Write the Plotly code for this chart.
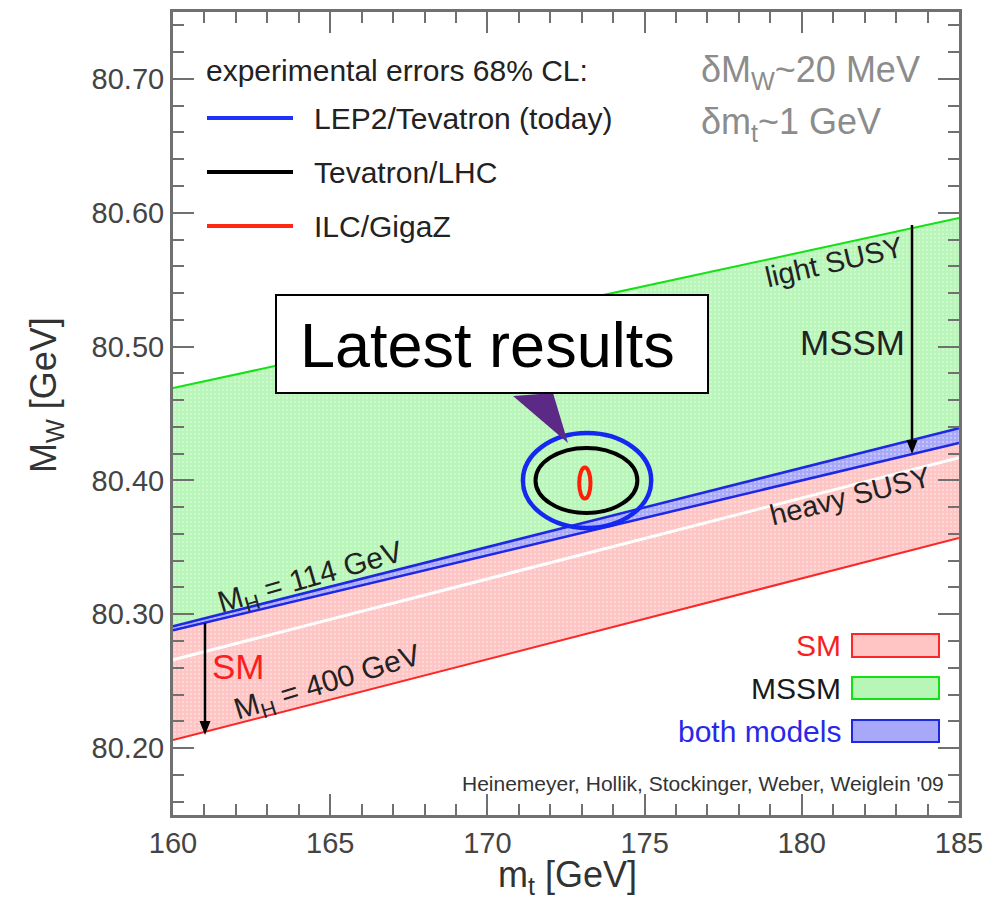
import plotly.graph_objects as go

# ---------------- data ----------------
mt_edges = [160.0, 185.0]                 # x at left / right edge of the bands
sm_low = [80.206, 80.357]                 # SM band lower edge (M_H = 400 GeV)
sm_high = [80.288, 80.428]                # SM band upper edge (M_H = 114 GeV)
mssm_low = [80.291, 80.439]               # MSSM band lower edge (heavy SUSY)
mssm_high = [80.469, 80.596]              # MSSM band upper edge (light SUSY)
white_line = [80.266, 80.417]             # thin white line inside the SM band

# experimental 68% CL ellipses: (centre mt, centre MW, half-width mt, half-width MW)
ell_today = (173.17, 80.400, 2.04, 0.0355)
ell_lhc = (173.15, 80.400, 1.62, 0.0243)
ell_ilc = (173.10, 80.398, 0.18, 0.0116)

x_ticks = [160, 165, 170, 175, 180, 185]
y_ticks = [80.20, 80.30, 80.40, 80.50, 80.60, 80.70]
y_tick_text = ["80.20", "80.30", "80.40", "80.50", "80.60", "80.70"]

# ---------------- geometry helpers (layout only) ----------------
PAGE_W, PAGE_H = 994, 902
OFF = 8                      # default body margin of the html page
W, H = PAGE_W - OFF, PAGE_H - OFF
L, R, T, B = 173, 959, 12, 815   # plot area in page pixels
XR = (160, 185)
YR = (80.15, 80.75)


def X(px):
    return XR[0] + (px - L) * (XR[1] - XR[0]) / (R - L)


def Y(py):
    return YR[1] - (py - T) * (YR[1] - YR[0]) / (B - T)


FONT = "Liberation Sans, Arial, Helvetica, sans-serif"

GREEN_FILL = "rgb(184,246,184)"
GREEN_LIGHT = "rgb(222,251,222)"
GREEN_LINE = "rgb(20,225,20)"
RED_FILL = "rgb(255,196,196)"
RED_LINE = "rgb(250,40,40)"
BLUE_FILL = "rgb(168,168,250)"
BLUE_LINE = "rgb(30,40,225)"

fig = go.Figure()


def band(lo, hi, fill, name):
    xs = [mt_edges[0], mt_edges[1], mt_edges[1], mt_edges[0], mt_edges[0]]
    ys = [lo[0], lo[1], hi[1], hi[0], lo[0]]
    fig.add_trace(go.Scatter(
        x=xs, y=ys, mode="lines", fill="toself", fillcolor=fill,
        line=dict(width=0), hoverinfo="skip", name=name, showlegend=False,
        fillpattern=dict(shape=".", bgcolor=fill, fgcolor="white",
                         fgopacity=0.35, size=4, solidity=0.25),
    ))


def edge(ys, color, width):
    fig.add_trace(go.Scatter(x=mt_edges, y=ys, mode="lines",
                             line=dict(color=color, width=width),
                             hoverinfo="skip", showlegend=False))


band(sm_low, sm_high, RED_FILL, "SM")
band(sm_high, mssm_low, BLUE_FILL, "both models")
band(mssm_low, mssm_high, GREEN_FILL, "MSSM")

edge(white_line, "white", 3)
edge(sm_low, RED_LINE, 2)
edge(mssm_high, GREEN_LINE, 2)
edge(sm_high, BLUE_LINE, 2.5)
edge(mssm_low, BLUE_LINE, 2.5)

shapes = []
annotations = []

# lighter patch near the top of the MSSM band (visible just above the callout)
slope = (mssm_high[1] - mssm_high[0]) / (mt_edges[1] - mt_edges[0])
xa, xb = X(470), X(638)
ya = mssm_high[0] + slope * (xa - mt_edges[0])
yb = mssm_high[0] + slope * (xb - mt_edges[0])
shapes.append(dict(type="path", xref="x", yref="y", layer="above",
                   path=f"M {xa},{Y(390)} L {xa},{ya - 0.002} L {xb},{yb - 0.002} L {xb},{Y(390)} Z",
                   fillcolor=GREEN_LIGHT, opacity=0.8, line=dict(width=0)))

# ellipses
for (cx, cy, ax_, ay_), col, lw in [(ell_today, "rgb(20,40,240)", 4.5),
                                     (ell_lhc, "black", 4),
                                     (ell_ilc, "rgb(255,30,10)", 4)]:
    shapes.append(dict(type="circle", xref="x", yref="y",
                       x0=cx - ax_, x1=cx + ax_, y0=cy - ay_, y1=cy + ay_,
                       line=dict(color=col, width=lw), layer="above"))


# arrows (line + filled head)
def arrow(px, py0, py1):
    shapes.append(dict(type="line", xref="x", yref="y", x0=X(px), x1=X(px),
                       y0=Y(py0), y1=Y(py1 - 10), line=dict(color="black", width=2.5),
                       layer="above"))
    shapes.append(dict(type="path", xref="x", yref="y", layer="above",
                       path=f"M {X(px - 5.5)},{Y(py1 - 14)} L {X(px + 5.5)},{Y(py1 - 14)} L {X(px)},{Y(py1)} Z",
                       fillcolor="black", line=dict(width=0)))


arrow(912, 225, 454)
arrow(205, 623, 735)


def txt(px, py, s, size, color="#222", xanchor="center", angle=0):
    annotations.append(dict(x=X(px), y=Y(py), xref="x", yref="y", text=s,
                            showarrow=False, xanchor=xanchor, yanchor="middle",
                            textangle=angle,
                            font=dict(family=FONT, size=size, color=color)))


# experimental-errors key
txt(204, 70, "experimental errors 68% CL:", 30, "#222", "left")
for py, col, label in [(118, "rgb(30,50,250)", "LEP2/Tevatron (today)"),
                       (172, "black", "Tevatron/LHC"),
                       (226, "rgb(255,40,20)", "ILC/GigaZ")]:
    shapes.append(dict(type="line", xref="x", yref="y", x0=X(207), x1=X(293),
                       y0=Y(py), y1=Y(py), line=dict(color=col, width=4)))
    txt(312, py, label, 30, "#222", "left")

txt(699, 72, "δM<sub>W</sub>~20 MeV", 36, "rgb(140,140,140)", "left")
txt(699, 124, "δm<sub>t</sub>~1 GeV", 36, "rgb(140,140,140)", "left")

txt(834, 262, "light SUSY", 29, "#222", angle=-13)
txt(852, 342, "MSSM", 35, "#222")
txt(850, 496, "heavy SUSY", 29, "#222", angle=-14)
txt(310, 578, "M<sub>H</sub> = 114 GeV", 30, "#222", angle=-16)
txt(238, 666, "SM", 35, "rgb(250,30,30)")
txt(327, 683, "M<sub>H</sub> = 400 GeV", 30, "#222", angle=-17)

# model key (bottom right)
for (y0, y1), fill, line, label, tcol in [
        ((634, 657), RED_FILL, RED_LINE, "SM", "rgb(250,30,30)"),
        ((677, 699), GREEN_FILL, GREEN_LINE, "MSSM", "#1a1a1a"),
        ((720, 742), BLUE_FILL, BLUE_LINE, "both models", "rgb(40,40,235)")]:
    shapes.append(dict(type="rect", xref="x", yref="y", x0=X(852), x1=X(939),
                       y0=Y(y1), y1=Y(y0), fillcolor=fill,
                       line=dict(color=line, width=2)))
    txt(843, (y0 + y1) / 2, label, 30, tcol, "right")

txt(946, 783, "Heinemeyer, Hollik, Stockinger, Weber, Weiglein '09", 21,
    "#333", "right")

# "Latest results" callout
shapes.append(dict(type="path", xref="x", yref="y",
                   path=f"M {X(513)},{Y(396)} L {X(553)},{Y(393)} L {X(568)},{Y(443)} Z",
                   fillcolor="rgb(92,42,134)", line=dict(width=0), layer="above"))
shapes.append(dict(type="rect", xref="x", yref="y", x0=X(276), x1=X(708),
                   y0=Y(393), y1=Y(295), fillcolor="white",
                   line=dict(color="black", width=2), layer="above"))
txt(487, 345, "Latest results", 63, "black")

# axis titles
annotations.append(dict(x=(567 - L) / (R - L), y=(B - 877) / (B - T),
                        xref="paper", yref="paper", showarrow=False,
                        text="m<sub>t</sub> [GeV]", xanchor="center",
                        yanchor="middle",
                        font=dict(family=FONT, size=36, color="#333")))
annotations.append(dict(x=(46 - L) / (R - L), y=(B - 395) / (B - T),
                        xref="paper", yref="paper", showarrow=False,
                        text="M<sub>W</sub> [GeV]", textangle=-90,
                        xanchor="center", yanchor="middle",
                        font=dict(family=FONT, size=36, color="#333")))

axis_common = dict(showgrid=False, zeroline=False, showline=True,
                   linecolor="#707070", linewidth=3, mirror="allticks",
                   ticks="inside", ticklen=21, tickwidth=2, tickcolor="#707070",
                   automargin=False,
                   tickfont=dict(family=FONT, size=29, color="#444"))

fig.update_layout(
    width=W, height=H,
    margin=dict(l=L - OFF, r=PAGE_W - R, t=T - OFF, b=PAGE_H - B),
    paper_bgcolor="white", plot_bgcolor="white",
    showlegend=False,
    shapes=shapes, annotations=annotations,
    xaxis=dict(range=list(XR), tickvals=x_ticks,
               ticktext=[str(v) for v in x_ticks],
               minor=dict(dtick=1, ticklen=11, tickwidth=2, tickcolor="#707070",
                          ticks="inside"),
               **axis_common),
    yaxis=dict(range=list(YR), tickvals=y_ticks, ticktext=y_tick_text,
               minor=dict(dtick=0.02, tick0=80.0, ticklen=11, tickwidth=2,
                          tickcolor="#707070", ticks="inside"),
               **axis_common),
)

fig.write_html("out.html")
